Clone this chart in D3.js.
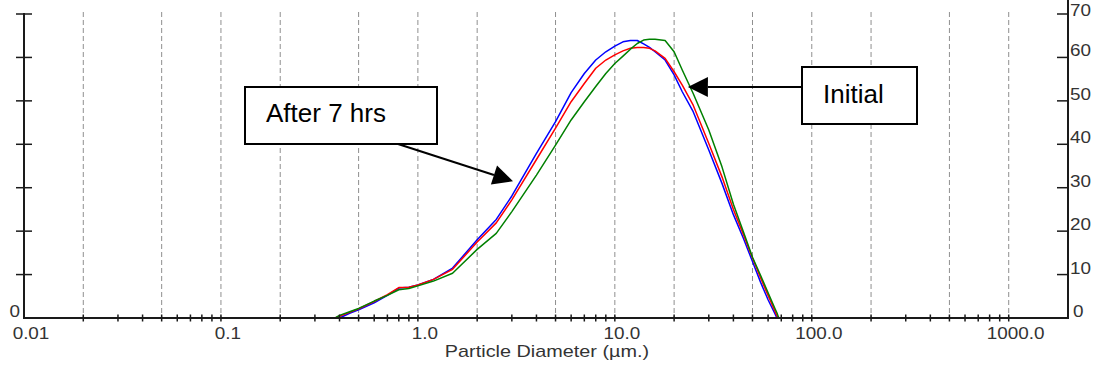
<!DOCTYPE html>
<html>
<head>
<meta charset="utf-8">
<script src="https://cdn.jsdelivr.net/npm/d3@7"></script>
<style>
body { margin: 0; background: #fff; }
svg { display: block; font-family: "Liberation Sans", Arial, sans-serif; }
</style>
</head>
<body>
<div id="chart"></div>
<script>
const width = 1094
const height = 366
const margins = ({ top: 14, right: 26, bottom: 48, left: 24 })

// particle diameter (µm) and volume values
const diameters = [0.38, 0.4, 0.45, 0.5, 0.6, 0.7, 0.8, 0.9, 1, 1.2, 1.5, 2, 2.5, 3, 4, 5, 6, 7, 8, 9, 10,
    11, 12, 13, 14, 15, 16, 18, 20, 22, 25, 30, 35, 40, 45, 50, 55, 60, 65, 66.5, 68]
const blueValues = [null, 0, 1.1, 1.9, 3.5, 5.2, 6.9, 7.1, 7.6, 8.9, 11.5, 18.0, 22.7, 28.1, 37.9, 45.2, 51.9, 56.3, 59.4, 61.3, 62.6,
    63.6, 63.9, 63.9, 63.1, 62.3, 61.3, 59.4, 56.0, 52.1, 47.5, 38.7, 31.0, 23.8, 18.3, 13.0, 8.2, 4.2, 1.0, 0, null]
const redValues = [0, 0.4, 1.3, 2.1, 3.8, 5.4, 7.0, 7.1, 7.6, 8.9, 11.2, 17.5, 21.9, 27.2, 36.5, 43.7, 49.8, 54.0, 57.5, 59.4, 60.6,
    61.5, 62.1, 62.3, 62.3, 62.1, 61.5, 59.8, 56.7, 53.6, 49.0, 40.2, 32.5, 25.0, 19.2, 13.8, 9.2, 5.2, 1.6, 0.5, 0]
const greenValues = [0, 0.6, 1.45, 2.2, 3.9, 5.2, 6.5, 6.8, 7.4, 8.5, 10.3, 15.8, 19.5, 24.5, 32.9, 39.8, 45.6, 49.8, 53.3, 56.3, 58.6,
    60.3, 61.9, 63.2, 64.0, 64.2, 64.2, 63.9, 61.3, 57.1, 51.7, 43.3, 34.8, 26.2, 19.8, 14.0, 9.8, 5.8, 2.2, 1.2, 0]

const xLabelValues = [0.01, 0.1, 1, 10, 100, 1000]
const xLabels = ["0.01", "0.1", "1.0", "10.0", "100.0", "1000.0"]
const gridValues = [0.02, 0.05, 0.1, 0.2, 0.5, 1, 2, 5, 10, 20, 50, 100, 200, 500, 1000]
const yTickValues = [0, 10, 20, 30, 40, 50, 60, 70]

const series = [
    { name: "After 7 hrs (a)", values: blueValues, color: "#0000ff" },
    { name: "After 7 hrs (b)", values: redValues, color: "#ff0000" },
    { name: "Initial", values: greenValues, color: "#008000" }
]

const svg = d3.select("#chart")
    .append("svg")
    .attr("width", width)
    .attr("height", height)

const x = d3.scaleLog()
    .domain([0.01, 2000])
    .range([margins.left, width - margins.right])
const y = d3.scaleLinear()
    .domain([0, 70])
    .range([height - margins.bottom, margins.top])

const x0 = x.range()[0], x1 = x.range()[1]
const baseY = y(0)

// dashed grid
svg.append("g")
    .selectAll("line")
    .data(gridValues)
    .join("line")
    .attr("x1", d => x(d))
    .attr("x2", d => x(d))
    .attr("y1", 12)
    .attr("y2", baseY)
    .attr("stroke", "#8f8f8f")
    .attr("stroke-width", 1)
    .attr("stroke-dasharray", "5,3")

// curves
const line = d3.line()
    .defined(d => d.v != null)
    .x(d => x(d.d))
    .y(d => y(d.v))

series.forEach(s => {
    svg.append("path")
        .datum(diameters.map((d, i) => ({ d: d, v: s.values[i] })))
        .attr("fill", "none")
        .attr("stroke", s.color)
        .attr("stroke-width", 1.5)
        .attr("stroke-linejoin", "round")
        .attr("d", line)
})

// axes
const axisColor = "#1a1a1a"
svg.append("line")
    .attr("x1", x0).attr("x2", x1)
    .attr("y1", baseY).attr("y2", baseY)
    .attr("stroke", axisColor).attr("stroke-width", 2)
svg.append("line")
    .attr("x1", x0).attr("x2", x0)
    .attr("y1", 13).attr("y2", baseY + 1)
    .attr("stroke", axisColor).attr("stroke-width", 2)
svg.append("line")
    .attr("x1", x1).attr("x2", x1)
    .attr("y1", 0).attr("y2", baseY + 1)
    .attr("stroke", axisColor).attr("stroke-width", 2)

// log minor ticks on x
svg.append("g")
    .selectAll("line")
    .data(x.ticks().filter(d => d > 0.01 && d < 2000))
    .join("line")
    .attr("x1", d => x(d))
    .attr("x2", d => x(d))
    .attr("y1", baseY - 3.5)
    .attr("y2", baseY + 3.5)
    .attr("stroke", axisColor)
    .attr("stroke-width", 1.5)

// left ticks (cross the axis) and right ticks (inside)
svg.append("g")
    .selectAll("line")
    .data(yTickValues.filter(d => d > 0))
    .join("line")
    .attr("x1", x0 - 8)
    .attr("x2", x0 + 8)
    .attr("y1", d => y(d))
    .attr("y2", d => y(d))
    .attr("stroke", axisColor)
    .attr("stroke-width", 1.5)
svg.append("g")
    .selectAll("line")
    .data(yTickValues.filter(d => d > 0))
    .join("line")
    .attr("x1", x1 - 11)
    .attr("x2", x1)
    .attr("y1", d => y(d))
    .attr("y2", d => y(d))
    .attr("stroke", axisColor)
    .attr("stroke-width", 1.5)

// tick labels
const labelColor = "#333"
svg.append("g")
    .selectAll("text")
    .data(xLabelValues)
    .join("text")
    .attr("transform", d => `translate(${x(d) + 7},339) scale(1.18,1)`)
    .attr("text-anchor", "middle")
    .attr("font-size", 16)
    .attr("fill", labelColor)
    .text((d, i) => xLabels[i])

svg.append("g")
    .selectAll("text")
    .data(yTickValues)
    .join("text")
    .attr("transform", d => `translate(${d == 0 ? x1 + 5 : x1 + 2},${d == 70 ? y(d) + 2 : y(d) - 1}) scale(1.18,1)`)
    .attr("font-size", 16)
    .attr("fill", labelColor)
    .text(d => d)

svg.append("text")
    .attr("transform", `translate(${x0 - 4},${baseY - 1}) scale(1.18,1)`)
    .attr("text-anchor", "end")
    .attr("font-size", 16)
    .attr("fill", labelColor)
    .text("0")

svg.append("text")
    .attr("transform", `translate(547,357) scale(1.24,1)`)
    .attr("text-anchor", "middle")
    .attr("font-size", 16)
    .attr("fill", labelColor)
    .text("Particle Diameter (µm.)")

// annotations: boxes with arrows pointing at the curves
const annotations = [
    { text: "After 7 hrs", box: [245, 87, 192, 57], textX: 266, textY: 122, from: [398, 144], to: [3.04, 31.5] },
    { text: "Initial", box: [802, 67, 115, 57], textX: 823, textY: 103, from: [802, 87], to: [23.5, 53.2] }
]

annotations.forEach(a => {
    const tx = x(a.to[0]), ty = y(a.to[1])
    const [fx, fy] = a.from
    const len = Math.hypot(tx - fx, ty - fy)
    const ux = (tx - fx) / len, uy = (ty - fy) / len
    const head = 20, half = 10
    const bx = tx - ux * head, by = ty - uy * head
    svg.append("line")
        .attr("x1", fx).attr("y1", fy)
        .attr("x2", bx).attr("y2", by)
        .attr("stroke", "#000")
        .attr("stroke-width", 2)
    svg.append("path")
        .attr("d", `M${tx},${ty}L${bx - uy * half},${by + ux * half}L${bx + uy * half},${by - ux * half}Z`)
        .attr("fill", "#000")
    svg.append("rect")
        .attr("x", a.box[0]).attr("y", a.box[1])
        .attr("width", a.box[2]).attr("height", a.box[3])
        .attr("fill", "#fff")
        .attr("stroke", "#000")
        .attr("stroke-width", 2)
    svg.append("text")
        .attr("x", a.textX)
        .attr("y", a.textY)
        .attr("font-size", 26)
        .attr("fill", "#000")
        .text(a.text)
})
</script>
</body>
</html>
